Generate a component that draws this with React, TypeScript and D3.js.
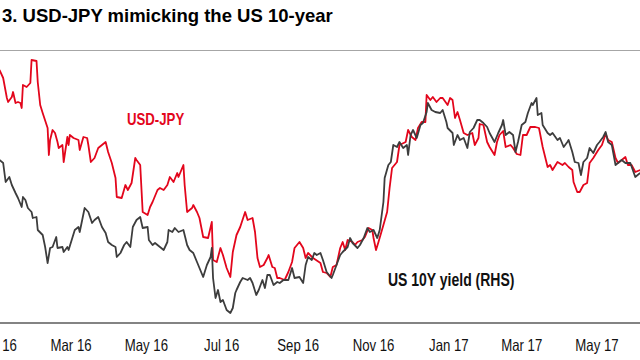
import React, { useRef, useEffect } from "react";
import { select, scaleTime, scaleLinear, line, timeParse, timeFormat } from "d3";

// chart text
const title = "3. USD-JPY mimicking the US 10-year";
const usdJpyLabel = "USD-JPY";
const yieldLabel = "US 10Y yield (RHS)";

// x-axis ticks (one every two months)
const tickDates = [
  "2016-01-01", "2016-03-01", "2016-05-01", "2016-07-01", "2016-09-01",
  "2016-11-01", "2017-01-01", "2017-03-01", "2017-05-01",
];

// USD-JPY, left scale
const usdJpy: [string, number][] = [
  ["2016-01-03", 120.3], ["2016-01-06", 119.5], ["2016-01-09", 117.5], ["2016-01-10", 117.1],
  ["2016-01-13", 117.6], ["2016-01-14", 118.1], ["2016-01-16", 117.0], ["2016-01-18", 117.1],
  ["2016-01-20", 117.0], ["2016-01-21", 116.5], ["2016-01-22", 118.8], ["2016-01-25", 118.6],
  ["2016-01-28", 119.0], ["2016-01-29", 121.3], ["2016-02-02", 121.2], ["2016-02-03", 119.1],
  ["2016-02-05", 116.8], ["2016-02-07", 116.0], ["2016-02-11", 114.5], ["2016-02-12", 111.8],
  ["2016-02-13", 113.3], ["2016-02-15", 114.3], ["2016-02-17", 114.0], ["2016-02-19", 113.1],
  ["2016-02-20", 112.5], ["2016-02-23", 112.8], ["2016-02-24", 111.1], ["2016-02-27", 113.6],
  ["2016-02-28", 112.8], ["2016-02-29", 113.8], ["2016-03-03", 113.5], ["2016-03-07", 113.3],
  ["2016-03-08", 112.3], ["2016-03-11", 113.6], ["2016-03-14", 113.5], ["2016-03-15", 112.8],
  ["2016-03-17", 111.1], ["2016-03-20", 111.5], ["2016-03-23", 112.5], ["2016-03-29", 113.1],
  ["2016-03-31", 112.1], ["2016-04-03", 111.0], ["2016-04-06", 109.5], ["2016-04-07", 107.6],
  ["2016-04-11", 107.5], ["2016-04-14", 108.8], ["2016-04-16", 108.3], ["2016-04-19", 109.0],
  ["2016-04-22", 111.5], ["2016-04-23", 111.3], ["2016-04-26", 110.8], ["2016-04-28", 106.1],
  ["2016-05-02", 105.8], ["2016-05-04", 106.6], ["2016-05-06", 107.1], ["2016-05-10", 108.3],
  ["2016-05-12", 108.5], ["2016-05-15", 108.3], ["2016-05-18", 108.8], ["2016-05-20", 109.6],
  ["2016-05-23", 109.1], ["2016-05-26", 110.0], ["2016-05-27", 109.6], ["2016-05-31", 110.8],
  ["2016-06-01", 108.8], ["2016-06-03", 106.1], ["2016-06-07", 106.5], ["2016-06-08", 106.8],
  ["2016-06-11", 106.1], ["2016-06-13", 105.5], ["2016-06-16", 103.6], ["2016-06-20", 103.5],
  ["2016-06-23", 105.1], ["2016-06-24", 101.3], ["2016-06-27", 101.1], ["2016-06-30", 102.5],
  ["2016-07-02", 101.8], ["2016-07-05", 100.5], ["2016-07-08", 99.6], ["2016-07-10", 102.1],
  ["2016-07-13", 103.8], ["2016-07-16", 104.6], ["2016-07-20", 106.1], ["2016-07-22", 105.3],
  ["2016-07-26", 105.5], ["2016-07-28", 104.1], ["2016-07-30", 101.5], ["2016-08-01", 100.6],
  ["2016-08-04", 100.8], ["2016-08-07", 101.5], ["2016-08-08", 101.8], ["2016-08-11", 100.6],
  ["2016-08-13", 100.5], ["2016-08-15", 99.5], ["2016-08-17", 99.5], ["2016-08-21", 99.3],
  ["2016-08-24", 100.1], ["2016-08-27", 101.1], ["2016-08-29", 102.5], ["2016-09-02", 103.1],
  ["2016-09-05", 102.5], ["2016-09-07", 101.5], ["2016-09-09", 102.0], ["2016-09-13", 101.5],
  ["2016-09-19", 101.0], ["2016-09-21", 100.1], ["2016-09-24", 100.0], ["2016-09-27", 99.6],
  ["2016-09-29", 100.6], ["2016-10-02", 100.8], ["2016-10-05", 102.5], ["2016-10-07", 103.1],
  ["2016-10-09", 102.3], ["2016-10-11", 103.3], ["2016-10-15", 103.1], ["2016-10-17", 102.8],
  ["2016-10-19", 103.1], ["2016-10-23", 103.3], ["2016-10-25", 103.6], ["2016-10-28", 104.5],
  ["2016-10-31", 104.3], ["2016-11-01", 103.5], ["2016-11-03", 102.3], ["2016-11-05", 103.1],
  ["2016-11-09", 104.8], ["2016-11-12", 106.1], ["2016-11-14", 108.5], ["2016-11-16", 110.5],
  ["2016-11-18", 110.8], ["2016-11-20", 111.1], ["2016-11-22", 112.8], ["2016-11-27", 113.1],
  ["2016-11-29", 114.3], ["2016-12-02", 113.6], ["2016-12-05", 113.3], ["2016-12-07", 114.5],
  ["2016-12-10", 115.1], ["2016-12-13", 115.1], ["2016-12-14", 117.8], ["2016-12-17", 117.3],
  ["2016-12-19", 117.6], ["2016-12-22", 117.1], ["2016-12-25", 117.5], ["2016-12-27", 117.5],
  ["2016-12-31", 116.8], ["2017-01-02", 117.5], ["2017-01-04", 117.3], ["2017-01-06", 115.5],
  ["2017-01-08", 116.1], ["2017-01-10", 115.3], ["2017-01-13", 114.0], ["2017-01-16", 113.8],
  ["2017-01-20", 114.0], ["2017-01-22", 112.8], ["2017-01-25", 113.5], ["2017-01-26", 114.9],
  ["2017-01-29", 114.8], ["2017-02-01", 113.1], ["2017-02-03", 112.6], ["2017-02-07", 111.8],
  ["2017-02-09", 113.1], ["2017-02-11", 113.8], ["2017-02-14", 114.2], ["2017-02-16", 112.6],
  ["2017-02-20", 112.8], ["2017-02-22", 112.5], ["2017-02-25", 111.9], ["2017-02-28", 111.8],
  ["2017-03-02", 113.8], ["2017-03-05", 113.8], ["2017-03-08", 114.6], ["2017-03-12", 114.6],
  ["2017-03-15", 114.5], ["2017-03-18", 112.6], ["2017-03-19", 112.1], ["2017-03-22", 110.6],
  ["2017-03-24", 110.8], ["2017-03-26", 110.3], ["2017-03-30", 111.1], ["2017-04-03", 110.8],
  ["2017-04-05", 111.0], ["2017-04-08", 110.6], ["2017-04-11", 110.3], ["2017-04-12", 109.1],
  ["2017-04-15", 108.1], ["2017-04-17", 108.1], ["2017-04-20", 108.8], ["2017-04-23", 109.0],
  ["2017-04-25", 111.0], ["2017-04-28", 111.5], ["2017-05-02", 112.3], ["2017-05-05", 112.8],
  ["2017-05-08", 113.9], ["2017-05-10", 113.3], ["2017-05-13", 113.1], ["2017-05-16", 111.5],
  ["2017-05-18", 111.0], ["2017-05-21", 111.3], ["2017-05-24", 111.6], ["2017-05-26", 110.8],
  ["2017-05-29", 110.8], ["2017-06-01", 110.1], ["2017-06-05", 110.3],
];

// US 10Y yield (%), right scale
const us10y: [string, number][] = [
  ["2016-01-03", 2.278], ["2016-01-06", 2.26], ["2016-01-08", 2.146], ["2016-01-11", 2.176],
  ["2016-01-13", 2.128], ["2016-01-16", 2.08], ["2016-01-18", 2.05], ["2016-01-21", 1.996],
  ["2016-01-22", 2.056], ["2016-01-24", 2.038], ["2016-01-26", 1.99], ["2016-01-29", 1.966],
  ["2016-01-30", 1.93], ["2016-02-02", 1.936], ["2016-02-03", 1.858], ["2016-02-07", 1.828],
  ["2016-02-09", 1.756], ["2016-02-11", 1.66], ["2016-02-13", 1.75], ["2016-02-15", 1.756],
  ["2016-02-18", 1.816], ["2016-02-19", 1.75], ["2016-02-23", 1.756], ["2016-02-24", 1.726],
  ["2016-02-27", 1.756], ["2016-02-28", 1.738], ["2016-03-02", 1.81], ["2016-03-04", 1.858],
  ["2016-03-07", 1.876], ["2016-03-08", 1.846], ["2016-03-10", 1.918], ["2016-03-12", 1.99],
  ["2016-03-15", 1.966], ["2016-03-18", 1.9], ["2016-03-20", 1.918], ["2016-03-23", 1.936],
  ["2016-03-26", 1.876], ["2016-03-29", 1.84], ["2016-03-31", 1.786], ["2016-04-03", 1.768],
  ["2016-04-06", 1.756], ["2016-04-07", 1.696], ["2016-04-10", 1.72], ["2016-04-13", 1.768],
  ["2016-04-15", 1.786], ["2016-04-18", 1.756], ["2016-04-20", 1.876], ["2016-04-23", 1.918],
  ["2016-04-26", 1.936], ["2016-04-28", 1.87], ["2016-05-02", 1.876], ["2016-05-03", 1.798],
  ["2016-05-06", 1.768], ["2016-05-08", 1.78], ["2016-05-12", 1.756], ["2016-05-15", 1.738],
  ["2016-05-18", 1.786], ["2016-05-19", 1.858], ["2016-05-22", 1.846], ["2016-05-24", 1.87],
  ["2016-05-27", 1.846], ["2016-05-31", 1.858], ["2016-06-03", 1.768], ["2016-06-05", 1.738],
  ["2016-06-08", 1.72], ["2016-06-11", 1.666], ["2016-06-13", 1.63], ["2016-06-16", 1.576],
  ["2016-06-19", 1.648], ["2016-06-22", 1.696], ["2016-06-23", 1.75], ["2016-06-24", 1.57],
  ["2016-06-26", 1.45], ["2016-06-28", 1.498], ["2016-06-30", 1.426], ["2016-07-02", 1.438],
  ["2016-07-05", 1.378], ["2016-07-08", 1.36], ["2016-07-10", 1.39], ["2016-07-12", 1.48],
  ["2016-07-13", 1.498], ["2016-07-16", 1.546], ["2016-07-18", 1.57], ["2016-07-22", 1.558],
  ["2016-07-24", 1.57], ["2016-07-26", 1.54], ["2016-07-29", 1.468], ["2016-07-31", 1.498],
  ["2016-08-03", 1.558], ["2016-08-05", 1.51], ["2016-08-07", 1.588], ["2016-08-09", 1.588],
  ["2016-08-12", 1.528], ["2016-08-15", 1.546], ["2016-08-17", 1.54], ["2016-08-20", 1.558],
  ["2016-08-24", 1.558], ["2016-08-27", 1.63], ["2016-08-29", 1.57], ["2016-09-02", 1.576],
  ["2016-09-05", 1.54], ["2016-09-07", 1.648], ["2016-09-09", 1.696], ["2016-09-12", 1.678],
  ["2016-09-14", 1.72], ["2016-09-16", 1.708], ["2016-09-19", 1.72], ["2016-09-21", 1.678],
  ["2016-09-24", 1.606], ["2016-09-28", 1.57], ["2016-09-29", 1.588], ["2016-10-02", 1.648],
  ["2016-10-05", 1.708], ["2016-10-07", 1.726], ["2016-10-11", 1.756], ["2016-10-13", 1.81],
  ["2016-10-15", 1.78], ["2016-10-19", 1.75], ["2016-10-21", 1.768], ["2016-10-24", 1.81],
  ["2016-10-27", 1.87], ["2016-10-29", 1.846], ["2016-11-01", 1.858], ["2016-11-04", 1.81],
  ["2016-11-06", 1.858], ["2016-11-09", 2.026], ["2016-11-10", 2.17], ["2016-11-13", 2.248],
  ["2016-11-15", 2.266], ["2016-11-17", 2.368], ["2016-11-20", 2.356], ["2016-11-22", 2.386],
  ["2016-11-25", 2.35], ["2016-11-28", 2.368], ["2016-11-29", 2.308], ["2016-12-01", 2.428],
  ["2016-12-03", 2.458], ["2016-12-06", 2.41], ["2016-12-09", 2.488], ["2016-12-11", 2.5],
  ["2016-12-14", 2.566], ["2016-12-15", 2.62], ["2016-12-18", 2.578], ["2016-12-21", 2.566],
  ["2016-12-25", 2.56], ["2016-12-27", 2.578], ["2016-12-30", 2.506], ["2016-12-31", 2.47],
  ["2017-01-04", 2.44], ["2017-01-05", 2.368], ["2017-01-08", 2.428], ["2017-01-10", 2.398],
  ["2017-01-13", 2.41], ["2017-01-16", 2.35], ["2017-01-18", 2.446], ["2017-01-21", 2.47],
  ["2017-01-24", 2.518], ["2017-01-26", 2.518], ["2017-01-29", 2.5], ["2017-02-01", 2.476],
  ["2017-02-03", 2.44], ["2017-02-07", 2.386], ["2017-02-10", 2.44], ["2017-02-13", 2.488],
  ["2017-02-14", 2.518], ["2017-02-16", 2.428], ["2017-02-19", 2.446], ["2017-02-22", 2.428],
  ["2017-02-24", 2.326], ["2017-02-26", 2.386], ["2017-03-01", 2.488], ["2017-03-04", 2.506],
  ["2017-03-06", 2.56], ["2017-03-09", 2.62], ["2017-03-10", 2.608], ["2017-03-13", 2.65],
  ["2017-03-14", 2.548], ["2017-03-17", 2.56], ["2017-03-18", 2.488], ["2017-03-22", 2.44],
  ["2017-03-24", 2.428], ["2017-03-26", 2.44], ["2017-03-30", 2.398], ["2017-04-01", 2.41],
  ["2017-04-04", 2.356], ["2017-04-07", 2.386], ["2017-04-08", 2.398], ["2017-04-11", 2.326],
  ["2017-04-13", 2.266], ["2017-04-16", 2.26], ["2017-04-18", 2.188], ["2017-04-20", 2.266],
  ["2017-04-23", 2.29], ["2017-04-25", 2.35], ["2017-04-28", 2.32], ["2017-05-01", 2.368],
  ["2017-05-03", 2.386], ["2017-05-06", 2.416], ["2017-05-08", 2.446], ["2017-05-10", 2.386],
  ["2017-05-13", 2.368], ["2017-05-16", 2.248], ["2017-05-18", 2.26], ["2017-05-21", 2.278],
  ["2017-05-24", 2.26], ["2017-05-28", 2.26], ["2017-05-30", 2.218], ["2017-06-01", 2.176],
  ["2017-06-05", 2.2],
];

const W = 640;
const H = 360;
const TOP = 51;
const BOTTOM = 323;
const FONT = "'Liberation Sans', Arial, Helvetica, sans-serif";

const parse = timeParse("%Y-%m-%d");
const fmt = timeFormat("%b %y");

const App = () => {
  const svgRef = useRef<SVGSVGElement>(null);

  useEffect(() => {
    const svg = select(svgRef.current);
    svg.selectAll("*").remove();

    //scales
    const xScale = scaleTime()
      .domain([parse("2016-01-01")!, parse("2017-05-01")!])
      .range([-3, 597]);
    const yLeft = scaleLinear().domain([95, 122.2]).range([BOTTOM, TOP]);
    const yRight = scaleLinear().domain([1.3, 2.932]).range([BOTTOM, TOP]);

    //frame
    svg.append("line")
      .attr("x1", 0).attr("x2", W)
      .attr("y1", TOP - 0.5).attr("y2", TOP - 0.5)
      .attr("stroke", "#a6a6a6").attr("stroke-width", 1);

    svg.append("line")
      .attr("x1", 0).attr("x2", W)
      .attr("y1", BOTTOM).attr("y2", BOTTOM)
      .attr("stroke", "#5a5a5a").attr("stroke-width", 1.5);

    //lines
    const jpyLine = line<[string, number]>()
      .x((d) => xScale(parse(d[0])!))
      .y((d) => yLeft(d[1]));
    const yieldLine = line<[string, number]>()
      .x((d) => xScale(parse(d[0])!))
      .y((d) => yRight(d[1]));

    svg.append("path")
      .datum(usdJpy)
      .attr("d", jpyLine)
      .attr("fill", "none")
      .attr("stroke", "#e3061c")
      .attr("stroke-width", 1.8)
      .attr("stroke-linejoin", "round");

    svg.append("path")
      .datum(us10y)
      .attr("d", yieldLine)
      .attr("fill", "none")
      .attr("stroke", "#3d3d3d")
      .attr("stroke-width", 1.8)
      .attr("stroke-linejoin", "round");

    //narrow text, like the original's condensed font
    const narrow = (x: number, y: number, s: number) =>
      `translate(${x},${y}) scale(${s},1)`;

    //x labels
    svg.selectAll(".tick-label")
      .data(tickDates)
      .join("text")
      .attr("class", "tick-label")
      .attr("transform", (d) => narrow(xScale(parse(d)!), 351, 0.8))
      .attr("text-anchor", "middle")
      .attr("font-family", FONT)
      .attr("font-size", 16.5)
      .attr("fill", "#111")
      .text((d) => fmt(parse(d)!));

    //series labels
    svg.append("text")
      .attr("transform", narrow(127, 125, 0.8))
      .attr("font-family", FONT)
      .attr("font-weight", "bold")
      .attr("font-size", 16.5)
      .attr("fill", "#e3061c")
      .text(usdJpyLabel);

    svg.append("text")
      .attr("transform", narrow(388, 286, 0.8))
      .attr("font-family", FONT)
      .attr("font-weight", "bold")
      .attr("font-size", 17.5)
      .attr("fill", "#111")
      .text(yieldLabel);

    //title
    svg.append("text")
      .attr("x", 2)
      .attr("y", 22)
      .attr("font-family", FONT)
      .attr("font-weight", "bold")
      .attr("font-size", 18.5)
      .attr("fill", "#000")
      .text(title);
  }, []);

  return (
    <svg
      ref={svgRef}
      width={W}
      height={H}
      style={{ position: "absolute", left: 0, top: 0, background: "#fff" }}
    />
  );
};

export default App;
